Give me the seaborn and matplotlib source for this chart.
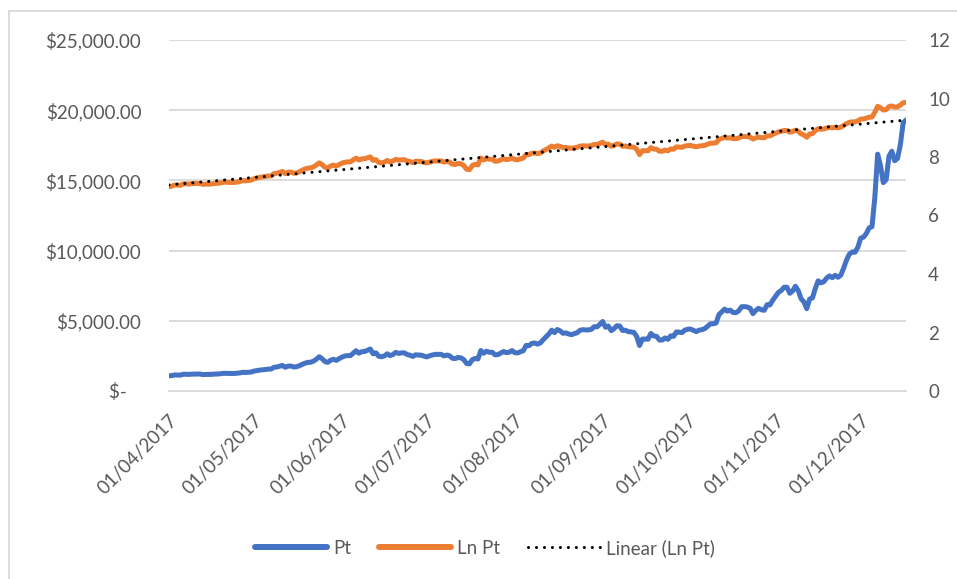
import numpy as np
import pandas as pd
import matplotlib.pyplot as plt
import matplotlib.dates as mdates
from matplotlib.ticker import FuncFormatter, MultipleLocator
from matplotlib.patches import Rectangle
from matplotlib.lines import Line2D
import seaborn as sns

# daily closing price, 01/04/2017 .. 17/12/2017
apr = [1080, 1100, 1145, 1140, 1130, 1190, 1195, 1180, 1200, 1205, 1210, 1205, 1170, 1180, 1180,
       1185, 1205, 1210, 1225, 1255, 1260, 1250, 1250, 1250, 1265, 1290, 1330, 1320, 1335, 1350]
may = [1420, 1450, 1490, 1510, 1530, 1560, 1560, 1690, 1710, 1760, 1820, 1690, 1770, 1780, 1710, 1730,
       1800, 1900, 1980, 2040, 2050, 2130, 2270, 2440, 2300, 2100, 2040, 2190, 2260, 2180, 2300]
jun = [2410, 2490, 2520, 2520, 2700, 2870, 2690, 2800, 2810, 2900, 2990, 2650, 2720, 2470, 2440,
       2500, 2650, 2520, 2600, 2750, 2680, 2710, 2720, 2600, 2550, 2460, 2580, 2560, 2550, 2480]
jul = [2430, 2510, 2570, 2610, 2610, 2610, 2500, 2560, 2510, 2330, 2310, 2390, 2360, 2230, 1960, 1930,
       2230, 2320, 2280, 2880, 2690, 2830, 2760, 2760, 2580, 2590, 2700, 2810, 2730, 2760, 2880]
aug = [2730, 2710, 2800, 2870, 3250, 3230, 3390, 3420, 3340, 3420, 3650, 3850, 4060, 4330, 4160, 4380,
       4280, 4110, 4140, 4060, 4010, 4090, 4150, 4320, 4370, 4350, 4350, 4390, 4580, 4570, 4740]
sep = [4950, 4540, 4630, 4300, 4440, 4650, 4630, 4310, 4330, 4230, 4210, 4170, 3880, 3240, 3700,
       3700, 3690, 4100, 3920, 3890, 3630, 3630, 3780, 3680, 3930, 3890, 4210, 4190, 4160, 4340]
oct_ = [4400, 4410, 4320, 4230, 4330, 4370, 4440, 4610, 4780, 4790, 4840, 5440, 5640, 5830, 5690, 5760,
        5590, 5580, 5710, 6000, 6010, 5980, 5900, 5510, 5740, 5890, 5780, 5750, 6150, 6130, 6470]
nov = [6750, 7030, 7160, 7390, 7390, 6960, 7120, 7460, 7140, 6570, 6340, 5860, 6550, 6630, 7300,
       7850, 7700, 7790, 8040, 8200, 8070, 8240, 8100, 8250, 8750, 9320, 9740, 9900, 9880, 10230]
dec = [10880, 10960, 11220, 11620, 11700, 13780, 16870, 16050, 14840, 15060, 16730, 17080, 16400,
       16560, 17530, 19100, 19300]

pt = np.array(apr + may + jun + jul + aug + sep + oct_ + nov + dec, dtype=float)
dates = pd.date_range("2017-04-01", periods=len(pt), freq="D")
ln_pt = np.log(pt)

# Excel style linear trendline on Ln Pt
idx = np.arange(len(pt))
slope, intercept = np.polyfit(idx, ln_pt, 1)
trend = slope * idx + intercept

df = pd.DataFrame({"date": dates, "Pt": pt, "Ln Pt": ln_pt, "trend": trend})

BLUE = "#4472C4"
ORANGE = "#ED7D31"
GREY = "#595959"
GRID = "#D9D9D9"

sns.set_style("white")
plt.rcParams["font.family"] = ["Lato", "DejaVu Sans"]

fig = plt.figure(figsize=(9.57, 5.79), dpi=100)
ax = fig.add_axes([169 / 957, 1 - 391 / 579, (906 - 169) / 957, (391 - 40) / 579])
ax2 = ax.twinx()

sns.lineplot(data=df, x="date", y="Pt", ax=ax, color=BLUE, linewidth=3.6,
             solid_capstyle="round", solid_joinstyle="round")
sns.lineplot(data=df, x="date", y="Ln Pt", ax=ax2, color=ORANGE, linewidth=3.6,
             solid_capstyle="round", solid_joinstyle="round")
ax2.plot(df["date"], df["trend"], color="black", linewidth=2.2,
         linestyle=(0, (0.01, 2.6)), dash_capstyle="round")

ax.set_xlim(dates[0], dates[-1])
ax.set_ylim(0, 25000)
ax2.set_ylim(0, 12)
ax.yaxis.set_major_locator(MultipleLocator(5000))
ax2.yaxis.set_major_locator(MultipleLocator(2))

def money(v, pos):
    if v == 0:
        return "$-   "
    return "${:,.2f}".format(v)

ax.yaxis.set_major_formatter(FuncFormatter(money))
ax.xaxis.set_major_locator(mdates.MonthLocator())
ax.xaxis.set_major_formatter(mdates.DateFormatter("%d/%m/%Y"))

ax.grid(axis="y", color=GRID, linewidth=1.3)
ax.grid(axis="x", visible=False)
ax2.grid(False)
ax.set_xlabel("")
ax.set_ylabel("")
ax2.set_ylabel("")

for a in (ax, ax2):
    for s in a.spines.values():
        s.set_visible(False)
ax.spines["bottom"].set_visible(True)
ax.spines["bottom"].set_color(GRID)
ax.spines["bottom"].set_linewidth(1.3)

ax.tick_params(axis="y", length=0, pad=20, labelsize=13.5, labelcolor=GREY)
ax2.tick_params(axis="y", length=0, pad=16, labelsize=13.5, labelcolor=GREY)
ax.tick_params(axis="x", length=6, width=1.3, color=GRID, pad=9, labelsize=13.5, labelcolor=GREY)
for lbl in ax.get_xticklabels():
    lbl.set_rotation(45)
    lbl.set_ha("right")
    lbl.set_rotation_mode("anchor")

handles = [
    Line2D([], [], color=BLUE, linewidth=4.3, solid_capstyle="round"),
    Line2D([], [], color=ORANGE, linewidth=4.3, solid_capstyle="round"),
    Line2D([], [], color="black", linewidth=2.2, linestyle=(0, (0.01, 2.6)), dash_capstyle="round"),
]
fig.legend(handles, ["Pt", "Ln Pt", "Linear (Ln Pt)"], loc="center", bbox_to_anchor=(0.507, 1 - 548 / 579),
           ncol=3, frameon=False, fontsize=13.5, labelcolor=GREY, handlelength=3.8,
           handletextpad=0.35, columnspacing=1.5)

# chart area border
fig.patches.append(Rectangle((9 / 957, -0.1), 1.2, 1.1 - 11 / 579, transform=fig.transFigure,
                             fill=False, edgecolor=GRID, linewidth=1.3))

fig.savefig("out.png", dpi=100, facecolor="white")
